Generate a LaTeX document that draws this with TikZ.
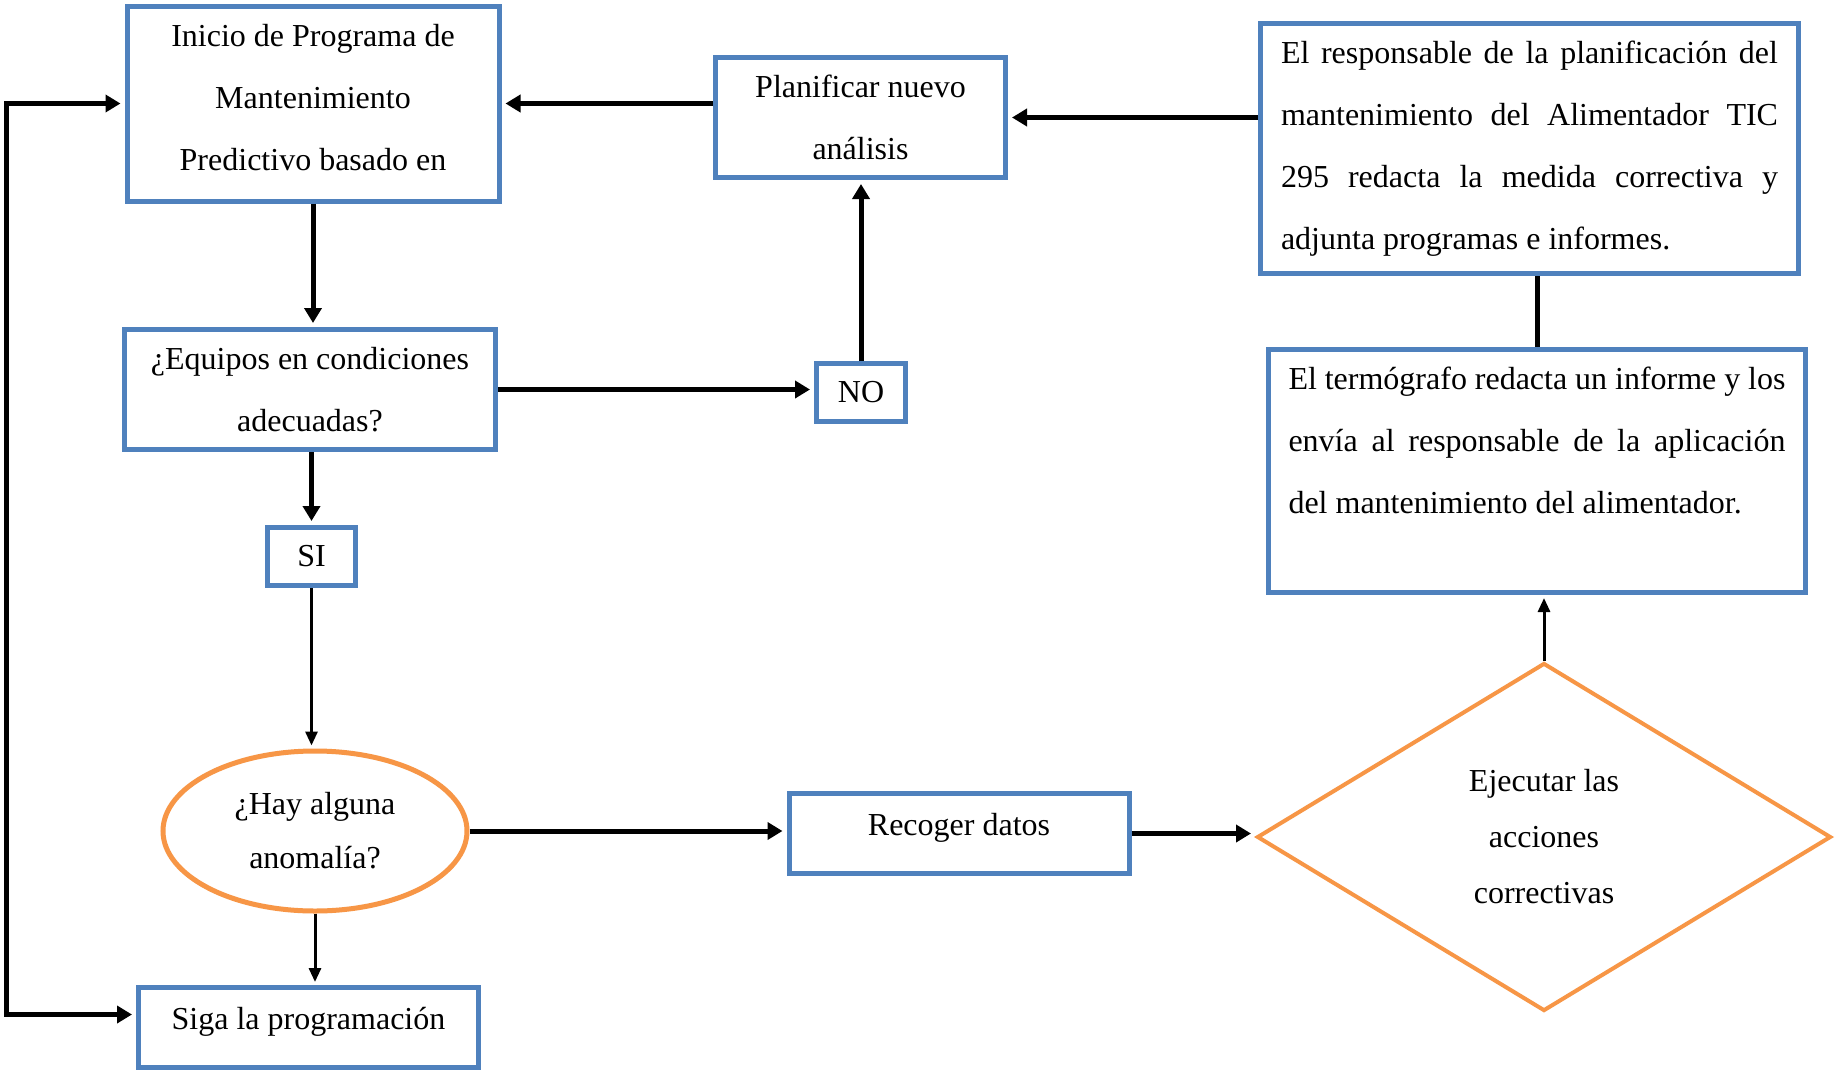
\documentclass[tikz,border=0pt]{standalone}
\usepackage{fontspec}
\setmainfont{Liberation Serif}
\usetikzlibrary{arrows.meta,shapes.geometric}
\definecolor{boxblue}{HTML}{4F81BD}
\definecolor{shapeorange}{HTML}{F79646}
\tikzset{
  box/.style={draw=boxblue, line width=5pt, rectangle, inner sep=0pt, align=center,
    font=\fontsize{32}{62}\selectfont},
  textbox/.style={box, align=justify, text width=497pt},
  anomshape/.style={draw=shapeorange, line width=5pt, ellipse, inner sep=0pt, align=center,
    font=\fontsize{32}{54}\selectfont},
  decshape/.style={draw=shapeorange, line width=4pt, diamond, inner sep=0pt, align=center,
    font=\fontsize{32}{56}\selectfont},
  arr/.style={line width=5pt, -{Triangle[length=15pt,width=17pt]}, shorten >=4pt},
  thinarr/.style={line width=3pt, -{Triangle[length=14pt,width=12pt]}, shorten >=3pt}
}
\begin{document}
\begin{tikzpicture}[x=1pt,y=-1pt]
  \fill[white] (0,0) rectangle (1836,1071);
  \useasboundingbox (0,0) rectangle (1836,1071);

  % boxes of the left column
  \node[box, text depth=13pt, minimum width=372pt, minimum height=195pt] (inicio) at (313,103.5)
    {Inicio de Programa de\\Mantenimiento\\Predictivo basado en};
  \node[box, minimum width=371pt, minimum height=120pt] (equipos) at (310,389.5)
    {¿Equipos en condiciones\\adecuadas?};
  \node[box, minimum width=88pt, minimum height=58pt] (si) at (311.5,556.5) {SI};
  \node[anomshape, minimum width=304pt, minimum height=160pt] (anom) at (315,831)
    {¿Hay alguna\\anomalía?};
  \node[box, text depth=19pt, minimum width=340pt, minimum height=80pt] (siga) at (308.5,1027.5)
    {Siga la programación};

  % middle
  \node[box, minimum width=290pt, minimum height=120pt] (plan) at (860.5,117.5)
    {Planificar nuevo\\análisis};
  \node[box, minimum width=89pt, minimum height=58pt] (no) at (861,392.5) {NO};
  \node[box, text depth=19pt, minimum width=340pt, minimum height=80pt] (rec) at (959,833.5)
    {Recoger datos};

  % right column
  \node[textbox, minimum width=538pt, minimum height=250pt] (resp) at (1529.5,148.5)
    {El responsable de la planificación del\linebreak
     mantenimiento del Alimentador TIC\linebreak
     295 redacta la medida correctiva y\linebreak
     adjunta programas e informes.};
  \node[textbox, minimum width=537pt, minimum height=243pt] (term) at (1537,471)
    {El termógrafo redacta un informe y los\linebreak
     envía al responsable de la aplicación\linebreak
     del mantenimiento del alimentador.\par\mbox{}};
  \node[decshape, minimum width=574pt, minimum height=348pt] (dia) at (1544,837)
    {Ejecutar las\\acciones\\correctivas};

  % connectors
  \foreach \from/\to in {inicio.south/equipos.north, no.north/plan.south}
    \draw[arr] (\from) -- (\from |- \to);
  \foreach \from/\to in {equipos.south/si.north}
    \draw[arr] (\to |- \from) -- (\to);
  \foreach \from/\to in {si.south/anom.north, anom.south/siga.north, dia.north/term.south}
    \draw[thinarr] (\from) -- (\from |- \to);
  \foreach \from/\to in {equipos.east/no.west, anom.east/rec.west, rec.east/dia.west}
    \draw[arr] (\from) -- (\from -| \to);
  \foreach \from/\to in {plan.west/inicio.east, resp.west/plan.east}
    \draw[arr] (\from |- \to) -- (\to);

  \draw[line width=5pt] (term.north |- resp.south) -- (term.north);

  \coordinate (lft) at (6,0);
  \draw[arr, {Triangle[length=15pt,width=17pt]}-{Triangle[length=15pt,width=17pt]}, shorten <=4pt]
    ([yshift=13pt]siga.west) -| (inicio.west -| lft) -- (inicio.west);
\end{tikzpicture}
\end{document}
